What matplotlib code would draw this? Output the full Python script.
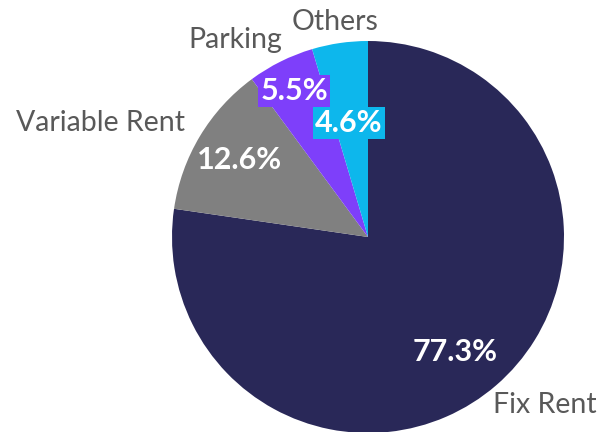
import matplotlib.pyplot as plt

# data
labels = ["Fix Rent", "Variable Rent", "Parking", "Others"]
shares = [77.3, 12.6, 5.5, 4.6]
colors = ["#292858", "#808080", "#7e3ffa", "#0db7ec"]

# label positions (pixels, y from bottom)
label_pos = [(545, 27), (100, 309), (235, 392), (335, 410)]
pct_pos = [(455, 80), (240, 272), (294, 341), (349, 309)]

fig = plt.figure(figsize=(5.98, 4.32), dpi=100)
ax = fig.add_axes([0, 0, 1, 1])

wedges, texts, autotexts = ax.pie(
    shares, labels=labels, colors=colors, startangle=90, counterclock=False,
    center=(368, 195), radius=196, autopct="%.1f%%", frame=True,
    wedgeprops=dict(linewidth=0),
)
ax.set_xlim(0, 598)
ax.set_ylim(0, 432)
ax.set_aspect("equal")
ax.axis("off")

for t, p in zip(texts, label_pos):
    t.set_position(p)
    t.set_ha("center")
    t.set_va("center")
    t.set_fontsize(20.5)
    t.set_color("#595959")
    t.set_family("Lato")

for i, (t, p) in enumerate(zip(autotexts, pct_pos)):
    t.set_position(p)
    t.set_ha("center")
    t.set_va("center")
    t.set_fontsize(22)
    t.set_color("white")
    t.set_fontweight("bold")
    t.set_family("Lato")
    if i in (2, 3):
        t.set_bbox(dict(facecolor=colors[i], edgecolor="none", pad=1.5))

fig.savefig("out.png", dpi=100)
